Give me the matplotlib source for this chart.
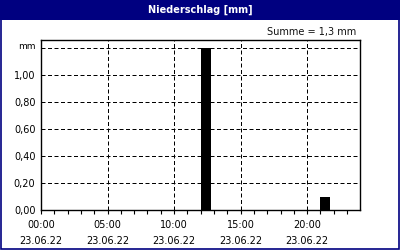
import matplotlib
matplotlib.use("Agg")
import matplotlib.pyplot as plt
from matplotlib.patches import Rectangle
import matplotlib.transforms as mtransforms

# Data
hours = list(range(24))
precip = [0, 0, 0, 0, 0, 0, 0, 0, 0, 0, 0, 0, 1.2, 0, 0, 0, 0, 0, 0, 0, 0, 0.1, 0, 0]
xtick_hours = [0, 5, 10, 15, 20]
xtick_labels = ["00:00\n23.06.22", "05:00\n23.06.22", "10:00\n23.06.22",
                "15:00\n23.06.22", "20:00\n23.06.22"]
ytick_vals = [0.0, 0.2, 0.4, 0.6, 0.8, 1.0, 1.2]
ytick_labels = ["0,00", "0,20", "0,40", "0,60", "0,80", "1,00", "mm"]
title = "Niederschlag [mm]"
summe = "Summe = 1,3 mm"

navy = "#000080"
fig = plt.figure(figsize=(4, 2.5), dpi=100, facecolor="white")

# Title bar
fig.patches.append(Rectangle((0, 0.92), 1, 0.08, transform=fig.transFigure,
                             facecolor=navy, edgecolor="none", zorder=0))
fig.text(0.5, 0.96, title, color="white", fontsize=7, fontweight="bold",
         ha="center", va="center")
# Border
fig.patches.append(Rectangle((0.002, 0.004), 0.995, 0.99, transform=fig.transFigure,
                             facecolor="none", edgecolor=navy, linewidth=1.2, zorder=5))

fig.text(0.89, 0.874, summe, fontsize=7, ha="right", va="center", color="#111111")

ax = fig.add_axes([0.1025, 0.16, 0.7985, 0.68])
ax.bar(hours, precip, width=0.75, align="edge", color="black", zorder=3)
ax.set_xlim(0, 24)
ax.set_ylim(0, 1.26)

ax.set_xticks(xtick_hours)
ax.set_xticklabels(xtick_labels, fontsize=7, linespacing=1.75)
ax.set_xticks(hours, minor=True)
ax.tick_params(axis="x", which="both", length=3, width=0.8, direction="out",
               pad=4, colors="black")
ax.set_yticks(ytick_vals)
ax.set_yticklabels(ytick_labels, fontsize=7)
ax.tick_params(axis="y", length=0, pad=4)

# "mm" label sits slightly above its gridline and is smaller
mm_label = ax.get_yticklabels()[-1]
mm_label.set_fontsize(6.5)
mm_label.set_transform(mm_label.get_transform() +
                       mtransforms.ScaledTranslation(0, 3 / 100, fig.dpi_scale_trans))

ax.grid(True, which="major", color="black", linewidth=0.72,
        linestyle=(0, (4, 2.5)), zorder=1)
for s in ax.spines.values():
    s.set_linewidth(1.0)
    s.set_color("black")

fig.savefig("out.png", dpi=100, facecolor="white")
